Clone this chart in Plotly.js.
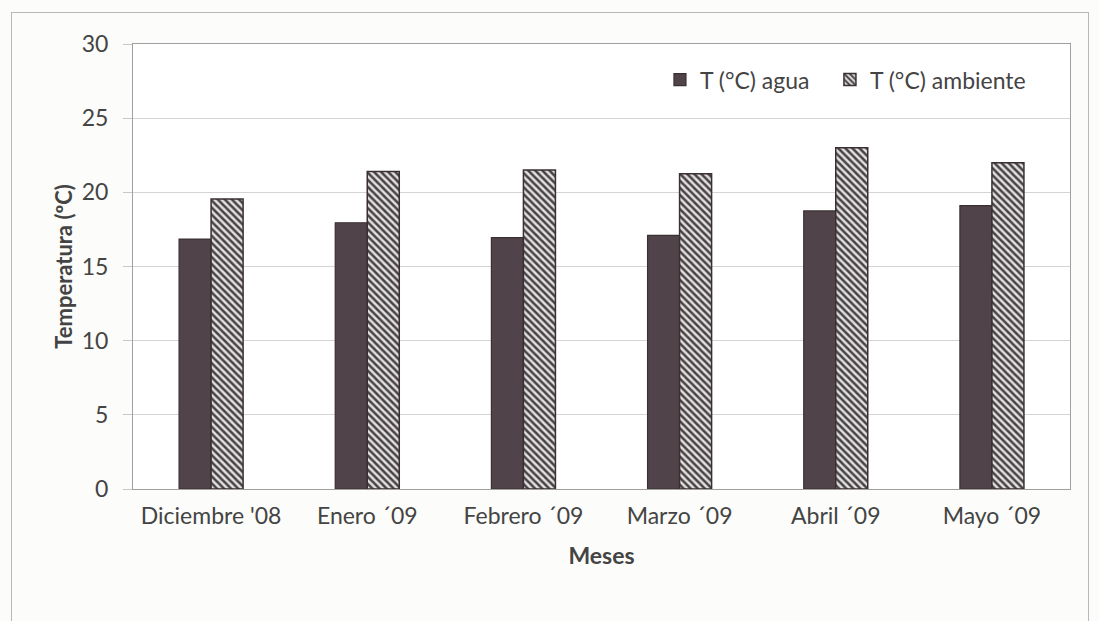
<!DOCTYPE html>
<html>
<head>
<meta charset="utf-8">
<script src="https://cdn.plot.ly/plotly-3.0.1.min.js"></script>
<style>
  html, body { margin: 0; padding: 0; background: #fcfcfa; }
  #wrap { position: relative; width: 1099px; height: 621px; }
  #chart { position: absolute; left: 0; top: 0; width: 1099px; height: 621px; }
  #frame { position: absolute; left: 11px; top: 12px; width: 1076px; height: 640px; border: 1px solid #b8b8b8; pointer-events: none; }
</style>
</head>
<body>
<div id="wrap">
  <div id="chart"></div>
  <div id="frame"></div>
</div>
<script>
const meses = ["Diciembre '08", "Enero ´09", "Febrero ´09", "Marzo ´09", "Abril ´09", "Mayo ´09"];
const tAgua = [16.85, 17.95, 16.95, 17.1, 18.75, 19.1];
const tAmbiente = [19.55, 21.4, 21.5, 21.25, 23.0, 22.0];
const yTicks = [0, 5, 10, 15, 20, 25, 30];

const fontFam = "Lato, 'Open Sans', sans-serif";

const traces = [
  {
    type: 'bar', name: 'T (°C) agua', x: meses, y: tAgua, legend: 'legend',
    marker: { color: '#51434a', line: { color: '#3a3032', width: 1.2 } }
  },
  {
    type: 'bar', name: 'T (°C) ambiente', x: meses, y: tAmbiente, legend: 'legend2',
    marker: {
      color: '#e0e0e0',
      line: { color: '#3a3032', width: 1.5 },
      pattern: { shape: '\\', fgcolor: '#4a4244', bgcolor: '#e0e0e0', size: 5, solidity: 0.5 }
    }
  }
];

const legendBase = {
  orientation: 'h', xanchor: 'left', y: 0.92, yanchor: 'middle',
  font: { family: fontFam, size: 23, color: '#444' },
  bgcolor: 'rgba(0,0,0,0)', itemwidth: 30
};

const layout = {
  width: 1099, height: 621,
  margin: { l: 133, r: 29, t: 44, b: 132 },
  paper_bgcolor: '#fcfcfa',
  plot_bgcolor: '#ffffff',
  barmode: 'group',
  bargap: 0.59,
  bargroupgap: 0,
  showlegend: true,
  legend: Object.assign({}, legendBase, { x: 0.5624 }),
  legend2: Object.assign({}, legendBase, { x: 0.7438 }),
  font: { family: fontFam, color: '#444' },
  xaxis: {
    type: 'category',
    tickfont: { family: fontFam, size: 23, color: '#444' },
    showgrid: false, showline: true, linecolor: '#a0a0a0', linewidth: 1, mirror: true,
    ticks: '', ticklen: 0, ticklabelstandoff: 6,
    title: { text: '<b>Meses</b>', font: { family: fontFam, size: 23, color: '#444' }, standoff: 20 }
  },
  yaxis: {
    range: [0, 30], tickvals: yTicks, ticktext: yTicks.map(String),
    tickfont: { family: fontFam, size: 23, color: '#444' },
    showgrid: true, gridcolor: '#d4d4d4', gridwidth: 1,
    showline: true, linecolor: '#a0a0a0', linewidth: 1, mirror: true,
    ticks: 'outside', ticklen: 9, tickcolor: '#c8c8c8', ticklabelstandoff: 10,
    zeroline: false,
    title: { text: '<b>Temperatura (ºC)</b>', font: { family: fontFam, size: 22, color: '#444' }, standoff: 3 }
  }
};

Plotly.newPlot('chart', traces, layout, { displayModeBar: false, staticPlot: true });
</script>
</body>
</html>
